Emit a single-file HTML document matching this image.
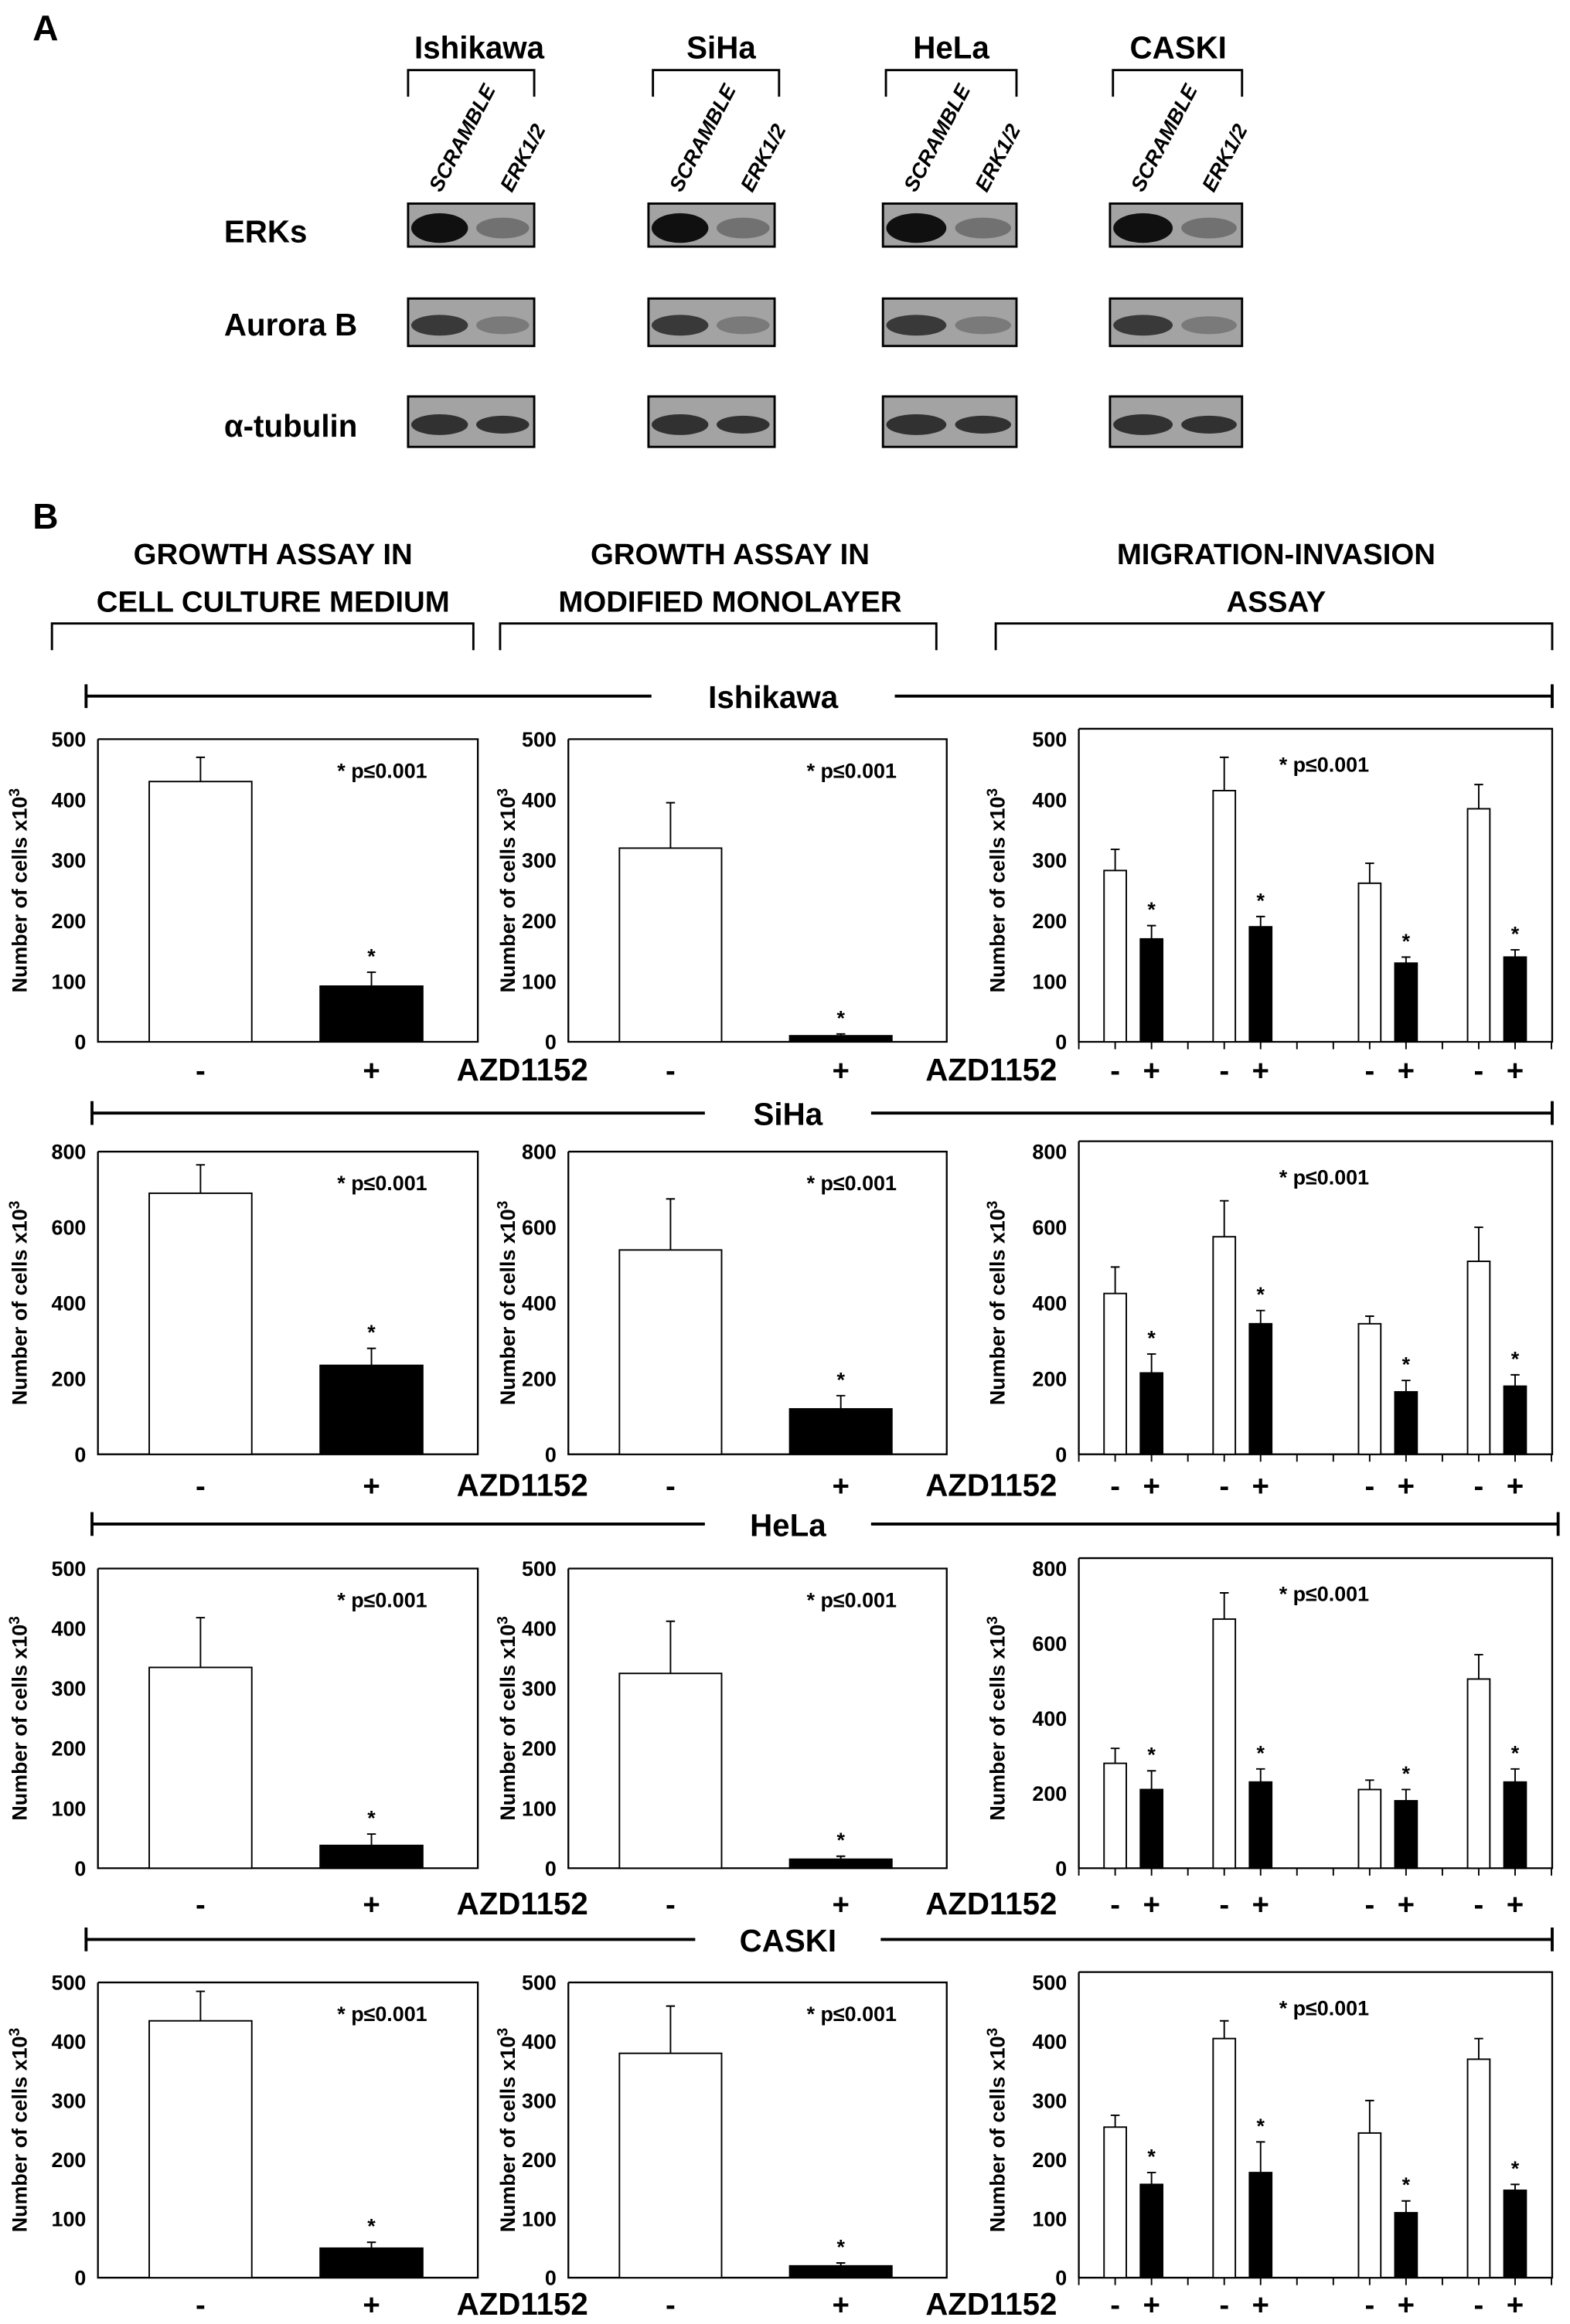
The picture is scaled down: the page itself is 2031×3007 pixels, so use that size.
<!DOCTYPE html>
<html><head><meta charset="utf-8"><style>
html,body{margin:0;padding:0;background:#fff;}
svg{display:block;}
text{font-family:"Liberation Sans",sans-serif;font-weight:bold;fill:#000;}
</style></head><body>
<svg id="fig" width="2031" height="3007" viewBox="0 0 1058 1566" xmlns="http://www.w3.org/2000/svg">
<g id="panelA"></g>
<g id="panelB"></g>
</svg>
<script>
// ---------- data ----------
const cellLines = ["Ishikawa", "SiHa", "HeLa", "CASKI"];
const blotRows = ["ERKs", "Aurora B", "α-tubulin"];
const growthMax = [500, 800, 500, 500];
const growthTicks = [[0,100,200,300,400,500],[0,200,400,600,800],[0,100,200,300,400,500],[0,100,200,300,400,500]];
const migMax = [500, 800, 800, 500];
const migTicks = [[0,100,200,300,400,500],[0,200,400,600,800],[0,200,400,600,800],[0,100,200,300,400,500]];
const mediumValues = [[430, 92], [690, 235], [335, 38], [435, 50]];
const mediumErrors = [[470, 115], [765, 280], [418, 57], [485, 60]];
const monolayerValues = [[320, 10], [540, 120], [325, 15], [380, 20]];
const monolayerErrors = [[395, 13], [675, 155], [412, 20], [460, 25]];
const migValues = [
  [283,170,415,190,262,130,385,140],
  [425,215,575,345,345,165,510,180],
  [280,210,665,230,210,180,505,230],
  [255,158,405,178,245,110,370,148]];
const migErrors = [
  [318,192,470,207,295,140,425,152],
  [495,265,670,380,365,195,600,210],
  [320,260,735,265,235,210,570,265],
  [275,178,435,230,300,130,405,158]];
const migSlots = [1,2,4,5,8,9,11,12];
const treatLabels = ["-", "+"];

// ---------- helpers ----------
const NS = "http://www.w3.org/2000/svg";
function mk(parent, tag, attrs, txt){
  const e = document.createElementNS(NS, tag);
  for (const k in attrs) e.setAttribute(k, attrs[k]);
  if (txt !== undefined) e.textContent = txt;
  parent.appendChild(e);
  return e;
}
const A = document.getElementById("panelA");
const B = document.getElementById("panelB");

// ---------- Panel A ----------
let t = mk(A, "text", {x:22, y:27, "font-size":24});


t.textContent = "A";
const blotX = [[275,360],[437,522],[595,685],[748,837]];
const titleX = [323, 486, 641, 794];
const brX = [[275,360],[440,525],[597,685],[750,837]];
const blotY = [[137,166],[201,233],[267,301]];
const rowLabelY = [163, 226, 294];
cellLines.forEach((c,i)=>{
  let tt = mk(A, "text", {x:titleX[i], y:39, "font-size":21, "text-anchor":"middle"}, c);
  
  
  let br = mk(A, "path", {d:`M${brX[i][0]} 65 V47 H${brX[i][1]} V65`, fill:"none", stroke:"#000", "stroke-width":1.5});
  
  
  const x0 = blotX[i][0], x1 = blotX[i][1];
  let s1 = mk(A, "text", {transform:`translate(${x0+22},130) rotate(-62)`, "font-size":14, "font-style":"italic"}, "SCRAMBLE");
  
  
  let s2 = mk(A, "text", {transform:`translate(${x0+70},130) rotate(-62)`, "font-size":14, "font-style":"italic"}, "ERK1/2");
  
  
  blotY.forEach((yy,r)=>{
    const g = mk(A, "g", {});
    
    
    mk(g, "rect", {x:x0, y:yy[0], width:x1-x0, height:yy[1]-yy[0], fill:"#a3a3a3", stroke:"#000", "stroke-width":1.5});
    const cy = (yy[0]+yy[1])/2 + 2;
    const w = (x1-x0)/2;
    const strong = r===2 ? [0.7,0.7] : (r===0 ? [0.9,0.3] : [0.65,0.25]);
    mk(g, "ellipse", {cx:x0+w*0.5, cy:cy, rx:w*0.45, ry:r===0?10:7, fill:"#000", opacity:strong[0]});
    mk(g, "ellipse", {cx:x0+w*1.5, cy:cy, rx:w*0.42, ry:r===0?7:6, fill:"#000", opacity:strong[1]});
  });
});
blotRows.forEach((r,i)=>{
  let rl = mk(A, "text", {x:151, y:rowLabelY[i], "font-size":21}, r);
  
  
});

// ---------- Panel B headers ----------
t = mk(B, "text", {x:22, y:356, "font-size":24}, "B");


const heads = [[184,"GROWTH ASSAY IN","CELL CULTURE MEDIUM",35,319],[492,"GROWTH ASSAY IN","MODIFIED MONOLAYER",337,631],[860,"MIGRATION-INVASION","ASSAY",671,1046]];
heads.forEach(h=>{
  let a = mk(B, "text", {x:h[0], y:380, "font-size":20, "text-anchor":"middle"}, h[1]);
  
  
  let b = mk(B, "text", {x:h[0], y:412, "font-size":20, "text-anchor":"middle"}, h[2]);
  
  
  let p = mk(B, "path", {d:`M${h[3]} 438 V420 H${h[4]} V438`, fill:"none", stroke:"#000", "stroke-width":1.5});
  
  
});

// ---------- rows ----------
const lineY = [469, 750, 1027, 1307];
const lineX = [[58,1046],[62,1046],[62,1050],[58,1046]];
const topY = [498, 776, 1057, 1336];
const zeroY = [702, 980, 1259, 1535];
const lblY = [728, 1008, 1290, 1560];
const ch = [[66,322],[383,638],[727,1046]];

function ylab(g, x, cy){
  const tx = mk(g, "text", {transform:`translate(${x},${cy}) rotate(-90)`, "font-size":14, "text-anchor":"middle"});
  
  
  tx.appendChild(document.createTextNode("Number of cells x10"));
  const sp = mk(tx, "tspan", {dy:-5, "font-size":10}, "3");
}

cellLines.forEach((c,ri)=>{
  const g = mk(B, "g", {});
  
  
  const ly = lineY[ri];
  const mid = 521 + (ri>0?10:0);
  const tw = c.length*6.5 + 30;
  let ln = mk(g, "path", {d:`M${lineX[ri][0]} ${ly-8} V${ly+8} M${lineX[ri][0]} ${ly} H${mid-tw} M${mid+tw} ${ly} H${lineX[ri][1]} M${lineX[ri][1]} ${ly-8} V${ly+8}`, stroke:"#000", "stroke-width":2, fill:"none"});
  
  
  let lt = mk(g, "text", {x:mid, y:ly+8, "font-size":21, "text-anchor":"middle"}, c);
  
  
  const y0 = zeroY[ri], y1 = topY[ri];

  [[mediumValues, mediumErrors, growthMax, growthTicks, "medium"], [monolayerValues, monolayerErrors, growthMax, growthTicks, "monolayer"]].forEach((cfg,ci)=>{
    const cg = mk(g, "g", {});
    
    
    const [xl, xr] = ch[ci];
    const max = cfg[2][ri];
    const yS = v => y0 - (v/max)*(y0-y1);
    mk(cg, "path", {d:`M${xl} ${y1} V${y0} H${xr} V${y1} H${xl}`, fill:"none", stroke:"#000", "stroke-width":1.2});
    cfg[3][ri].forEach(tv=>{
      let tk = mk(cg, "text", {x:xl-8, y:yS(tv)+5, "font-size":14, "text-anchor":"end"}, tv);
      
      
    });
    ylab(cg, xl-48+(ci?12:0), (y0+y1)/2);
    const vals = cfg[0][ri], errs = cfg[1][ri];
    const w = (xr-xl);
    [0,1].forEach(k=>{
      const cx = xl + w*(k===0?0.27:0.72);
      const bw = w*0.27;
      const yv = yS(vals[k]), ye = yS(errs[k]);
      let eb = mk(cg, "path", {d:`M${cx} ${yv} V${ye} M${cx-3} ${ye} H${cx+3}`, stroke:"#000", "stroke-width":1});
      
      
      let bar = mk(cg, "rect", {x:cx-bw/2, y:yv, width:bw, height:y0-yv, fill:k?"#000":"#fff", stroke:"#000", "stroke-width":1});
      
      
      if (k){
        let st = mk(cg, "text", {x:cx, y:ye-6, "font-size":14, "text-anchor":"middle"}, "*");
        
        
      }
      let tl = mk(cg, "text", {x:cx, y:lblY[ri], "font-size":20, "text-anchor":"middle"}, treatLabels[k]);
      
      
    });
    let pv = mk(cg, "text", {x:xl+w*0.63, y:y1+26, "font-size":14}, "* p≤0.001");
    
    
    let az = mk(cg, "text", {x:xr+30, y:lblY[ri], "font-size":21, "text-anchor":"middle"}, "AZD1152");
    
    
  });

  const mg = mk(g, "g", {});
  
  
  const [xl, xr] = ch[2];
  const max = migMax[ri];
  const yS = v => y0 - (v/max)*(y0-y1);
  mk(mg, "path", {d:`M${xl} ${y1-7} V${y0} H${xr} V${y1-7} H${xl}`, fill:"none", stroke:"#000", "stroke-width":1.2});
  for (let i=0;i<=13;i++){
    mk(mg, "line", {x1:xl+24.5*i, x2:xl+24.5*i, y1:y0, y2:y0+5, stroke:"#000", "stroke-width":1});
  }
  migTicks[ri].forEach(tv=>{
    let tk = mk(mg, "text", {x:xl-8, y:yS(tv)+5, "font-size":14, "text-anchor":"end"}, tv);
    
    
  });
  ylab(mg, xl-50, (y0+y1)/2);
  migValues[ri].forEach((v,i)=>{
    const cx = xl + 24.5*migSlots[i];
    const yv = yS(v), ye = yS(migErrors[ri][i]);
    let eb = mk(mg, "path", {d:`M${cx} ${yv} V${ye} M${cx-3} ${ye} H${cx+3}`, stroke:"#000", "stroke-width":1});
    
    
    let bar = mk(mg, "rect", {x:cx-7.5, y:yv, width:15, height:y0-yv, fill:i%2?"#000":"#fff", stroke:"#000", "stroke-width":1});
    
    
    if (i%2){
      let st = mk(mg, "text", {x:cx, y:ye-6, "font-size":14, "text-anchor":"middle"}, "*");
      
      
    }
    let tl = mk(mg, "text", {x:cx, y:lblY[ri], "font-size":20, "text-anchor":"middle"}, treatLabels[i%2]);
    
    
  });
  let pv = mk(mg, "text", {x:xl+135, y:y1+22, "font-size":14}, "* p≤0.001");
  
  
});
</script>
</body></html>
